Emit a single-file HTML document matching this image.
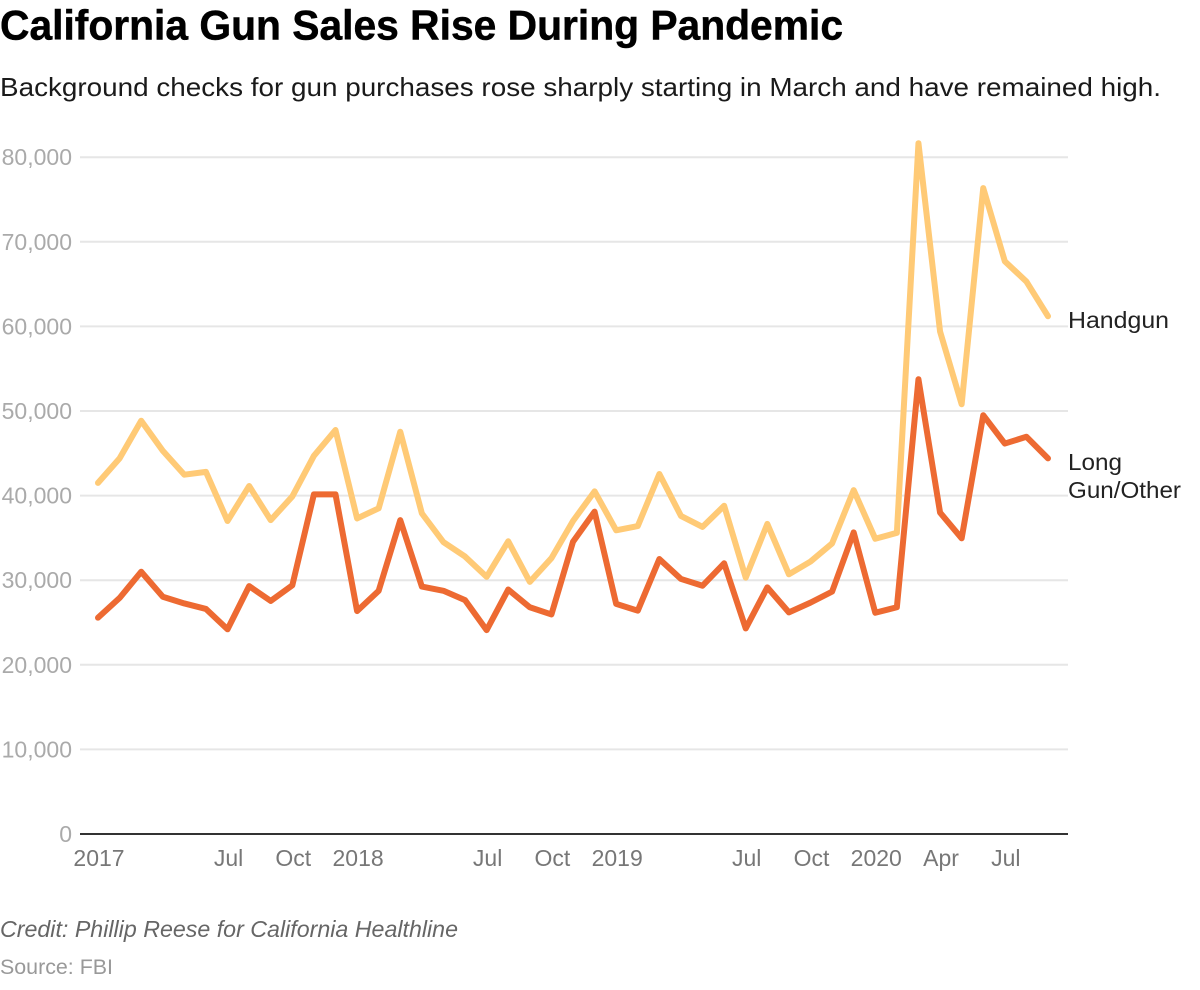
<!DOCTYPE html>
<html>
<head>
<meta charset="utf-8">
<title>California Gun Sales Rise During Pandemic</title>
<style>
html,body{margin:0;padding:0;background:#fff;width:1200px;height:990px;overflow:hidden}
svg{display:block;font-family:"Liberation Sans",Arial,sans-serif}
</style>
</head>
<body>
<svg id="chart" width="1200" height="990" viewBox="0 0 1200 990">
  <text x="0" y="39.5" font-size="42" font-weight="700" fill="#000" stroke="#000" stroke-width="0.5" textLength="843" lengthAdjust="spacingAndGlyphs">California Gun Sales Rise During Pandemic</text>
  <text x="0" y="96" font-size="26" fill="#1a1a1a" textLength="1161" lengthAdjust="spacingAndGlyphs">Background checks for gun purchases rose sharply starting in March and have remained high.</text>
  <g id="grid"></g>
  <g id="yticks"></g>
  <g id="xticks"></g>
  <g id="lines"></g>
  <line x1="80" x2="1068" y1="834" y2="834" stroke="#333" stroke-width="2"></line>
  <text x="1068" y="328" font-size="23" fill="#222" textLength="101" lengthAdjust="spacingAndGlyphs">Handgun</text>
  <text x="1068" y="470" font-size="23" fill="#222" textLength="54" lengthAdjust="spacingAndGlyphs">Long</text>
  <text x="1068" y="498" font-size="23" fill="#222" textLength="113" lengthAdjust="spacingAndGlyphs">Gun/Other</text>
  <text x="0" y="937" font-size="23" font-style="italic" fill="#666" textLength="458" lengthAdjust="spacingAndGlyphs">Credit: Phillip Reese for California Healthline</text>
  <text x="0" y="974" font-size="21" fill="#999" textLength="113" lengthAdjust="spacingAndGlyphs">Source: FBI</text>
</svg>
<script>
const handgun = [41500,44400,48850,45300,42470,42800,37000,41130,37100,39900,44700,47750,37300,38500,47550,37900,34500,32800,30400,34600,29800,32600,37000,40500,35900,36400,42550,37600,36300,38800,30300,36650,30700,32200,34350,40650,34900,35600,81650,59400,50800,76350,67700,65300,61200];
const longGun = [25570,27900,31000,28050,27250,26600,24200,29300,27550,29400,40150,40150,26350,28750,37100,29250,28750,27650,24100,28900,26800,25950,34550,38100,27200,26400,32500,30150,29350,32000,24300,29150,26200,27350,28650,35650,26150,26800,53750,38000,34950,49500,46150,46950,44400];
const yTickValues = [10000,20000,30000,40000,50000,60000,70000,80000];
const yZeroLabel = 0;
const xTickIndexes = [0,6,9,12,18,21,24,30,33,36,39,42];
const xTickLabels = ["2017","Jul","Oct","2018","Jul","Oct","2019","Jul","Oct","2020","Apr","Jul"];

const NS = 'http://www.w3.org/2000/svg';
const xScale = i => 98 + i * (1048 - 98) / 44;
const yScale = v => 834 - v * 0.00846;

function make(tag, attrs, parent, text) {
  const el = document.createElementNS(NS, tag);
  for (const k in attrs) el.setAttribute(k, attrs[k]);
  if (text !== undefined) el.textContent = text;
  parent.appendChild(el);
  return el;
}

const grid = document.getElementById('grid');
const yticks = document.getElementById('yticks');
const xticks = document.getElementById('xticks');
const lines = document.getElementById('lines');

yTickValues.forEach(v => {
  const g = make('line', {x1: 80, x2: 1068, y1: yScale(v), y2: yScale(v), stroke: '#e6e6e6', 'stroke-width': 2}, grid);
  
  
  const t = make('text', {x: 72, y: yScale(v) + 8, 'text-anchor': 'end', 'font-size': 23, fill: '#aaa'}, yticks, v.toLocaleString('en-US'));
  
  
});
const zeroLabel = make('text', {x: 72, y: yScale(yZeroLabel) + 8, 'text-anchor': 'end', 'font-size': 23, fill: '#aaa'}, yticks, String(yZeroLabel));



xTickIndexes.forEach((idx, n) => {
  const t = make('text', {x: xScale(idx) + 1, y: 866, 'text-anchor': 'middle', 'font-size': 23, fill: '#777'}, xticks, xTickLabels[n]);
  
  
});

function pathFor(values) {
  return values.map((v, i) => xScale(i).toFixed(2) + ',' + yScale(v).toFixed(2)).join(' ');
}
const handgunLine = make('polyline', {points: pathFor(handgun), fill: 'none', stroke: '#ffca76', 'stroke-width': 6, 'stroke-linejoin': 'round', 'stroke-linecap': 'round'}, lines);


const longGunLine = make('polyline', {points: pathFor(longGun), fill: 'none', stroke: '#ed6a32', 'stroke-width': 6, 'stroke-linejoin': 'round', 'stroke-linecap': 'round'}, lines);


</script>
</body>
</html>
